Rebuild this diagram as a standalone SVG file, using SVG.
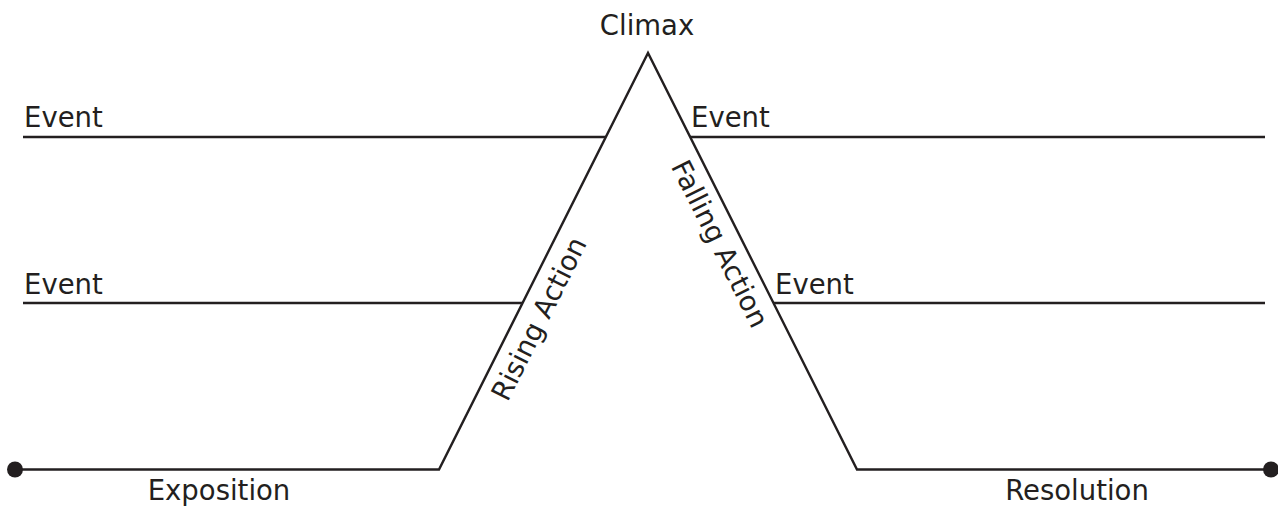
<svg xmlns="http://www.w3.org/2000/svg" width="1278" height="510" viewBox="0 0 1278 510">
  <style>
    .ln { fill: none; stroke: #231f20; stroke-width: 2.4; }
    .lbl { font-family: "DejaVu Sans", "Open Sans", sans-serif; font-size: 27.5px; fill: #231f20; }
    .dot { fill: #231f20; }
  </style>
  <rect width="1278" height="510" fill="#ffffff"/>
  <!-- plot line -->
  <g id="connectors">
    <polyline class="ln" points="15,469.5 439,469.5 648,53 857,469.5 1271,469.5"/>
    <line class="ln" x1="23" y1="137" x2="606" y2="137"/>
    <line class="ln" x1="690" y1="137" x2="1265" y2="137"/>
    <line class="ln" x1="23" y1="303" x2="523" y2="303"/>
    <line class="ln" x1="773" y1="303" x2="1265" y2="303"/>
    <circle class="dot" cx="15" cy="469.5" r="8"/>
    <circle class="dot" cx="1271" cy="469.5" r="8"/>
  </g>
  <g id="climax"><text class="lbl" x="647" y="35" text-anchor="middle">Climax</text></g>
  <g id="event-left-1"><text class="lbl" x="24" y="127">Event</text></g>
  <g id="event-left-2"><text class="lbl" x="24" y="294">Event</text></g>
  <g id="event-right-1"><text class="lbl" x="691" y="127">Event</text></g>
  <g id="event-right-2"><text class="lbl" x="775" y="294">Event</text></g>
  <g id="rising-action"><text class="lbl" text-anchor="middle" transform="translate(547.5,323) rotate(-63.43)">Rising Action</text></g>
  <g id="falling-action"><text class="lbl" text-anchor="middle" transform="translate(711.5,248) rotate(63.43)">Falling Action</text></g>
  <g id="exposition"><text class="lbl" x="219" y="500" text-anchor="middle">Exposition</text></g>
  <g id="resolution"><text class="lbl" x="1077" y="500" text-anchor="middle">Resolution</text></g>
</svg>
